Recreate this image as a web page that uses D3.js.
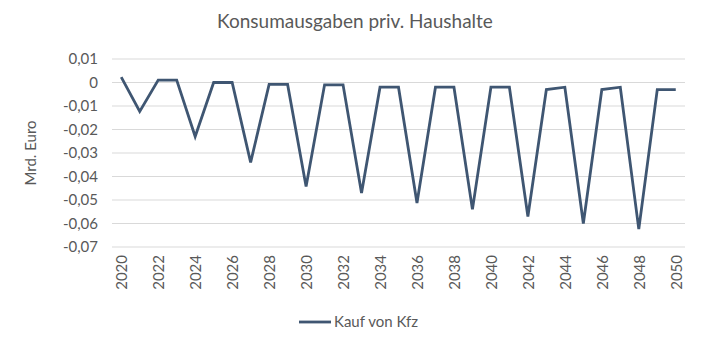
<!DOCTYPE html>
<html>
<head>
<meta charset="utf-8">
<script src="https://cdn.jsdelivr.net/npm/d3@7"></script>
<style>
  body { margin: 0; background: #fff; }
  svg text { font-family: Lato, "Open Sans", sans-serif; fill: #595959; }
</style>
</head>
<body>
<div id="chart"></div>
<script>
// Daten (Mrd. Euro)
const years = d3.range(2020, 2051);
const kaufVonKfz = [
  0.0023, -0.0123, 0.001, 0.001, -0.023, 0, 0, -0.034, -0.0008, -0.0008,
  -0.0443, -0.001, -0.001, -0.047, -0.002, -0.002, -0.0513, -0.002, -0.002, -0.054,
  -0.002, -0.002, -0.057, -0.003, -0.002, -0.060, -0.003, -0.002, -0.0624, -0.003,
  -0.003
];
const yTicks = [0.01, 0, -0.01, -0.02, -0.03, -0.04, -0.05, -0.06, -0.07];
const xTickYears = d3.range(2020, 2051, 2);

const width = 707, height = 354;
const margin = { top: 59, right: 22, bottom: 107, left: 112 };
const lineColor = "#3F5672";

const svg = d3.select("#chart").append("svg")
  .attr("width", width)
  .attr("height", height);

const x = d3.scalePoint()
  .domain(years)
  .range([margin.left, width - margin.right])
  .padding(0.5);

const y = d3.scaleLinear()
  .domain([-0.07, 0.01])
  .range([height - margin.bottom, margin.top]);

const fmt = v => v === 0 ? "0" : d3.format(".2f")(v).replace(".", ",").replace("−", "-");

// Gitterlinien
svg.append("g")
  .selectAll("line")
  .data(yTicks)
  .enter().append("line")
  .attr("x1", margin.left)
  .attr("x2", width - margin.right)
  .attr("y1", d => y(d))
  .attr("y2", d => y(d))
  .attr("stroke", "#d9d9d9")
  .attr("stroke-width", 1);

// Y-Achse
const yAxis = svg.append("g")
  .attr("transform", `translate(${margin.left},0)`)
  .call(d3.axisLeft(y).tickValues(yTicks).tickFormat(fmt).tickSize(0).tickPadding(14));
yAxis.select(".domain").remove();
yAxis.selectAll("text").style("font-size", "15px");

// X-Achse
const xAxis = svg.append("g")
  .attr("transform", `translate(0,${height - margin.bottom})`)
  .call(d3.axisBottom(x).tickValues(xTickYears).tickFormat(d => d).tickSize(0));
xAxis.select(".domain").remove();
xAxis.selectAll("text")
  .style("font-size", "15px")
  .attr("transform", "rotate(-90)")
  .attr("text-anchor", "end")
  .attr("x", -8)
  .attr("y", 0)
  .attr("dy", "0.35em");

// Linie
svg.append("path")
  .datum(kaufVonKfz)
  .attr("fill", "none")
  .attr("stroke", lineColor)
  .attr("stroke-width", 2.8)
  .attr("stroke-linejoin", "miter")
  .attr("d", d3.line().x((d, i) => x(years[i])).y(d => y(d)));

// Titel
svg.append("text")
  .attr("x", 355)
  .attr("y", 28)
  .attr("text-anchor", "middle")
  .style("font-size", "19px")
  .text("Konsumausgaben priv. Haushalte");

// Y-Achsentitel
svg.append("text")
  .attr("transform", `translate(36,${(margin.top + height - margin.bottom) / 2}) rotate(-90)`)
  .attr("text-anchor", "middle")
  .style("font-size", "15px")
  .text("Mrd. Euro");

// Legende
const legend = svg.append("g").attr("transform", "translate(299,322)");
legend.append("line")
  .attr("x1", 0).attr("x2", 32)
  .attr("stroke", lineColor)
  .attr("stroke-width", 2.8);
legend.append("text")
  .attr("x", 35)
  .attr("dy", "0.35em")
  .style("font-size", "15px")
  .text("Kauf von Kfz");
</script>
</body>
</html>
